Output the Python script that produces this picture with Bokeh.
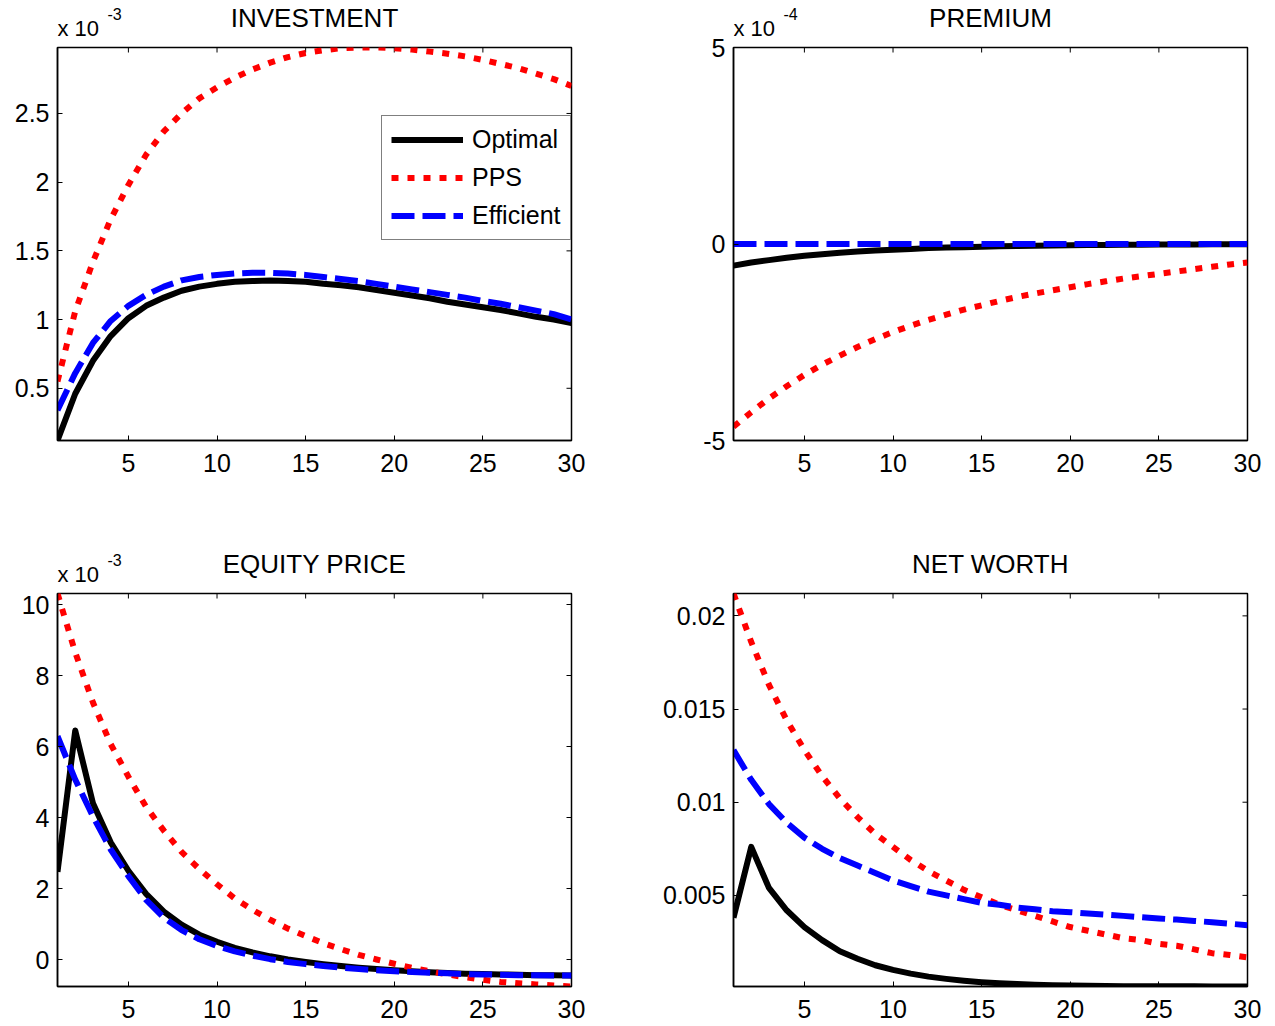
from bokeh.plotting import figure
from bokeh.layouts import column, row
from bokeh.models import (Range1d, FixedTicker, Label, Legend, LegendItem,
                          CustomJSTickFormatter)
from bokeh.embed import file_html
from bokeh.resources import INLINE

# ---------------------------------------------------------------- data
periods = list(range(1, 31))

# Investment response (units of 1e-3)
invest_optimal = [0.12, 0.46, 0.70, 0.88, 1.01, 1.10, 1.16, 1.21, 1.24, 1.26,
                  1.275, 1.28, 1.285, 1.28, 1.275, 1.26, 1.25, 1.235, 1.215, 1.195,
                  1.175, 1.155, 1.13, 1.11, 1.09, 1.07, 1.045, 1.02, 1.0, 0.975]
invest_pps = [0.55, 1.06, 1.42, 1.73, 1.98, 2.20, 2.37, 2.50, 2.61, 2.69,
              2.76, 2.82, 2.87, 2.91, 2.94, 2.96, 2.975, 2.98, 2.98, 2.975,
              2.965, 2.95, 2.935, 2.915, 2.89, 2.86, 2.83, 2.79, 2.75, 2.70]
invest_efficient = [0.34, 0.61, 0.83, 0.99, 1.10, 1.18, 1.24, 1.285, 1.31, 1.325,
                    1.335, 1.34, 1.34, 1.335, 1.325, 1.31, 1.295, 1.28, 1.26, 1.24,
                    1.22, 1.20, 1.18, 1.16, 1.135, 1.115, 1.09, 1.065, 1.04, 1.0]

# Premium response (units of 1e-4)
premium_optimal = [-0.55, -0.47, -0.41, -0.35, -0.30, -0.26, -0.225, -0.19, -0.165, -0.145,
                   -0.125, -0.105, -0.09, -0.08, -0.068, -0.058, -0.05, -0.043, -0.037, -0.032,
                   -0.027, -0.023, -0.02, -0.017, -0.015, -0.013, -0.011, -0.009, -0.008, -0.007]
premium_pps = [-4.65, -4.28, -3.93, -3.62, -3.33, -3.07, -2.84, -2.62, -2.42, -2.24,
               -2.08, -1.93, -1.80, -1.67, -1.56, -1.45, -1.35, -1.26, -1.18, -1.10,
               -1.02, -0.95, -0.88, -0.82, -0.76, -0.70, -0.64, -0.58, -0.52, -0.47]
premium_efficient = [0.0, 0.0, 0.0, 0.0, 0.0, 0.0, 0.0, 0.0, 0.0, 0.0,
                     0.0, 0.0, 0.0, 0.0, 0.0, 0.0, 0.0, 0.0, 0.0, 0.0,
                     0.0, 0.0, 0.0, 0.0, 0.0, 0.0, 0.0, 0.0, 0.0, 0.0]

# Equity price response (units of 1e-3)
equity_optimal = [2.47, 6.45, 4.40, 3.30, 2.50, 1.85, 1.35, 0.98, 0.70, 0.50,
                  0.33, 0.20, 0.09, 0.0, -0.07, -0.13, -0.18, -0.23, -0.27, -0.30,
                  -0.33, -0.36, -0.38, -0.40, -0.41, -0.42, -0.43, -0.44, -0.44, -0.45]
equity_pps = [10.31, 8.65, 7.24, 6.07, 5.15, 4.30, 3.63, 3.03, 2.55, 2.12,
              1.72, 1.40, 1.12, 0.87, 0.66, 0.46, 0.29, 0.13, 0.0, -0.12,
              -0.23, -0.33, -0.42, -0.50, -0.57, -0.63, -0.67, -0.70, -0.73, -0.76]
equity_efficient = [6.29, 5.07, 4.03, 3.10, 2.35, 1.68, 1.18, 0.83, 0.57, 0.38,
                    0.23, 0.11, 0.01, -0.07, -0.13, -0.18, -0.23, -0.27, -0.30, -0.33,
                    -0.35, -0.37, -0.39, -0.41, -0.42, -0.43, -0.44, -0.44, -0.45, -0.45]

# Net worth response (levels)
networth_optimal = [0.0038, 0.0076, 0.0054, 0.0042, 0.0033, 0.0026, 0.0020, 0.0016, 0.00125, 0.0010,
                    0.0008, 0.00064, 0.00052, 0.00042, 0.00034, 0.00028, 0.00024, 0.0002, 0.00018, 0.00016,
                    0.00015, 0.00014, 0.00013, 0.00013, 0.00012, 0.00012, 0.00012, 0.00011, 0.00011, 0.00011]
networth_pps = [0.0212, 0.0186, 0.0163, 0.0144, 0.0128, 0.0114, 0.0102, 0.0092, 0.0083, 0.0076,
                0.0069, 0.0063, 0.0058, 0.0053, 0.0049, 0.0045, 0.0042, 0.0039, 0.0036, 0.0033,
                0.0031, 0.0029, 0.0027, 0.0026, 0.0024, 0.0023, 0.0021, 0.0019, 0.0018, 0.00167]
networth_efficient = [0.0128, 0.0112, 0.0099, 0.0089, 0.0081, 0.0075, 0.0070, 0.0066, 0.0062, 0.0058,
                      0.0055, 0.0052, 0.0050, 0.0048, 0.0046, 0.0045, 0.00435, 0.00425, 0.00415, 0.0041,
                      0.00403, 0.00396, 0.0039, 0.00383, 0.00376, 0.0037, 0.00363, 0.00356, 0.00348, 0.0034]

series_names = ["Optimal", "PPS", "Efficient"]
x_ticks = [5, 10, 15, 20, 25, 30]

# ---------------------------------------------------------------- style
FONT = "Liberation Sans"
FRAME_W, FRAME_H = 514, 393
TICK_LEN = 5        # inward tick length, px
LINE_STYLES = {
    "Optimal": dict(line_color="black", line_dash="solid"),
    "PPS": dict(line_color="#ff0000", line_dash="7 9"),
    "Efficient": dict(line_color="#0000ff", line_dash="23 8"),
}


def style_axis(ax, ticks, standoff):
    ax.ticker = FixedTicker(ticks=ticks, minor_ticks=[])
    ax.major_tick_in = TICK_LEN
    ax.major_tick_out = 0
    ax.major_tick_line_width = 1
    ax.major_tick_line_color = "black"
    ax.minor_tick_line_color = None
    ax.axis_line_color = "black"
    ax.axis_line_width = 1.5
    ax.formatter = CustomJSTickFormatter(code="return tick.toString();")
    ax.major_label_text_font = FONT
    ax.major_label_text_font_size = "25px"
    ax.major_label_text_color = "black"
    ax.major_label_standoff = standoff


def header(height, sides, gap, title, exponent):
    """Strip above a panel holding its title and the 'x 10^n' scale note.
    Its frame lines up with the panel frame below (same side borders), so x is
    measured in px from the frame's left edge; `gap` is the distance from the
    strip's bottom edge down to the panel frame, and text centres are given in
    px above that frame."""
    left, right = sides
    h = figure(width=left + FRAME_W + right, height=height,
               x_range=Range1d(0, FRAME_W), y_range=Range1d(0, height),
               output_backend="svg", toolbar_location=None,
               x_axis_location=None, y_axis_location=None,
               min_border_left=left, min_border_right=right,
               min_border_top=0, min_border_bottom=0)
    h.outline_line_color = None
    h.grid.visible = False
    h.background_fill_color = "white"
    h.border_fill_color = "white"
    h.add_layout(Label(x=FRAME_W / 2, y=29.5 - gap, text=title, text_align="center",
                       text_baseline="middle", text_font=FONT,
                       text_font_size="26px", text_color="black"))
    if exponent is not None:
        h.add_layout(Label(x=0, y=19.0 - gap, text="x 10", text_align="left",
                           text_baseline="middle", text_font=FONT,
                           text_font_size="22px", text_color="black"))
        h.add_layout(Label(x=50, y=33.5 - gap, text=exponent, text_align="left",
                           text_baseline="middle", text_font=FONT,
                           text_font_size="16px", text_color="black"))
    return h


def panel(values, y_ticks, y_span, borders, legend=False):
    left, right, top, bottom = borders
    y_lo, y_hi = y_span
    x_lo, x_hi = periods[0], periods[-1]
    p = figure(width=left + FRAME_W + right, height=top + FRAME_H + bottom,
               x_range=Range1d(x_lo, x_hi), y_range=Range1d(y_lo, y_hi),
               output_backend="svg", toolbar_location=None,
               min_border_left=left, min_border_right=right,
               min_border_top=top, min_border_bottom=bottom)
    p.background_fill_color = "white"
    p.border_fill_color = "white"
    p.outline_line_color = "black"
    p.outline_line_width = 1.5
    p.xgrid.grid_line_color = None
    p.ygrid.grid_line_color = None

    style_axis(p.xaxis[0], x_ticks, 13)
    style_axis(p.yaxis[0], y_ticks, 8)

    px_x = (x_hi - x_lo) / FRAME_W
    px_y = (y_hi - y_lo) / FRAME_H

    # box-style inward ticks along the top and right edges
    p.segment(x0=x_ticks, x1=x_ticks, y0=[y_hi] * len(x_ticks),
              y1=[y_hi - TICK_LEN * px_y] * len(x_ticks),
              line_color="black", line_width=1)
    p.segment(x0=[x_hi] * len(y_ticks), x1=[x_hi - TICK_LEN * px_x] * len(y_ticks),
              y0=y_ticks, y1=y_ticks, line_color="black", line_width=1)

    renderers = {}
    for name, ys in zip(series_names, values):
        renderers[name] = p.line(periods, ys, line_width=6, line_cap="butt",
                                 line_join="round", **LINE_STYLES[name])

    if legend:
        items = [LegendItem(label=n, renderers=[renderers[n]]) for n in series_names]
        leg = Legend(items=items, location=(324, 200), orientation="vertical",
                     padding=9, spacing=9, margin=0,
                     glyph_width=72, glyph_height=29, label_standoff=9, label_width=89,
                     label_text_font=FONT, label_text_font_size="25px",
                     label_text_color="black",
                     border_line_color="black", border_line_width=1.5,
                     background_fill_color="white", background_fill_alpha=1.0)
        p.add_layout(leg)
    return p


def tight(*series):
    return (min(min(s) for s in series), max(max(s) for s in series))


# Frames: left column starts 57 px in, right column 96 px in; top-row frames
# begin 47 px down, bottom-row frames 80 px below the 513 px half-way line.
SIDES_L, SIDES_R = (57, 66), (96, 28)
GAP_L, GAP_R = 4, 9   # the right column leaves room for its top "5" tick label

h_invest = header(47 - GAP_L, SIDES_L, GAP_L, "INVESTMENT", "-3")
p_invest = panel([invest_optimal, invest_pps, invest_efficient],
                 [0.5, 1, 1.5, 2, 2.5], tight(invest_optimal, invest_pps, invest_efficient),
                 (*SIDES_L, GAP_L, 73), legend=True)
h_equity = header(80 - GAP_L, SIDES_L, GAP_L, "EQUITY PRICE", "-3")
p_equity = panel([equity_optimal, equity_pps, equity_efficient],
                 [0, 2, 4, 6, 8, 10], tight(equity_optimal, equity_pps, equity_efficient),
                 (*SIDES_L, GAP_L, 40))

h_premium = header(47 - GAP_R, SIDES_R, GAP_R, "PREMIUM", "-4")
p_premium = panel([premium_optimal, premium_pps, premium_efficient],
                  [-5, 0, 5], (-5, 5), (*SIDES_R, GAP_R, 73))
h_networth = header(80 - GAP_R, SIDES_R, GAP_R, "NET WORTH", None)
p_networth = panel([networth_optimal, networth_pps, networth_efficient],
                   [0.005, 0.01, 0.015, 0.02],
                   tight(networth_optimal, networth_pps, networth_efficient),
                   (*SIDES_R, GAP_R, 40))

page = row(column(h_invest, p_invest, h_equity, p_equity),
           column(h_premium, p_premium, h_networth, p_networth))

with open("out.html", "w") as f:
    f.write(file_html(page, INLINE))
